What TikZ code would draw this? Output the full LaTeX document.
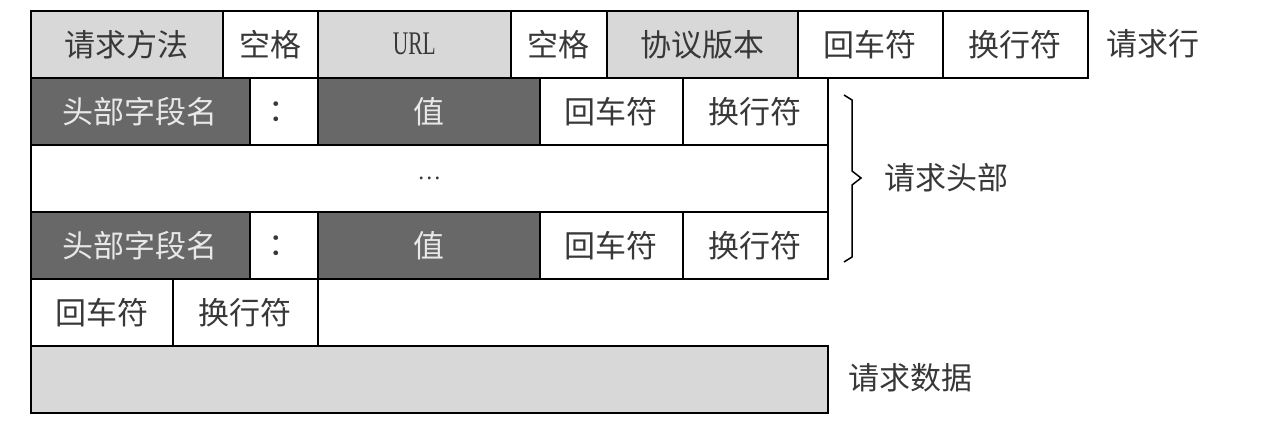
\documentclass[tikz,border=0pt]{standalone}
\usepackage{fontspec}
\setmainfont{Noto Sans CJK SC}
\newfontfamily\serifw{Liberation Serif}
\newfontfamily\urlfont[FakeStretch=0.65]{Liberation Serif}
\definecolor{lgray}{HTML}{D8D8D8}
\definecolor{dgray}{HTML}{686868}
\definecolor{txt}{HTML}{383838}
\definecolor{ltxt}{HTML}{E8E8E8}
\tikzset{
  cell/.style={draw=black, line width=1.6pt, anchor=north west, inner sep=0pt,
    font=\fontsize{31pt}{31pt}\selectfont, text=txt, minimum height=#1},
  cell/.default=67pt,
  wcell/.style={cell, fill=white},
  lcell/.style={cell, fill=lgray},
  dcell/.style={cell, fill=dgray, text=ltxt},
  lab/.style={font=\fontsize{31pt}{31pt}\selectfont, text=txt, inner sep=0pt},
  bracestyle/.style={line width=1.5pt, line join=miter}
}
\begin{document}
\begin{tikzpicture}[x=1pt,y=-1pt]
\useasboundingbox (0,0) rectangle (1266,441);
% row 1: request line
\node[lcell, minimum width=192pt] (m)  at (30,10)  {请求方法};
\node[wcell, minimum width=95pt]  (s1) at (222,10) {空格};
\node[lcell, minimum width=193pt, font=\urlfont\fontsize{33pt}{33pt}\selectfont] (u) at (317,10) {URL};
\node[wcell, minimum width=96pt]  (s2) at (510,10) {空格};
\node[lcell, minimum width=191pt] (v)  at (606,10) {协议版本};
\node[wcell, minimum width=145pt] (cr1) at (797,10) {回车符};
\node[wcell, minimum width=145pt] (lf1) at (942,10) {换行符};
\node[lab, anchor=center] (reqline) at (1153,44) {请求行};
% row 2: header
\node[dcell, minimum width=219pt] (h1) at (30,77)  {头部字段名};
\node[wcell, minimum width=68pt]  (c1) at (249,77) {：};
\node[dcell, minimum width=222pt] (v1) at (317,77) {值};
\node[wcell, minimum width=143pt] (cr2) at (539,77) {回车符};
\node[wcell, minimum width=145pt] (lf2) at (682,77) {换行符};
% row 3: ellipsis
\node[wcell, minimum width=797pt, font=\serifw\fontsize{24pt}{24pt}\selectfont] (dots) at (30,144) {…};
% row 4: header
\node[dcell, minimum width=219pt] (h2) at (30,211)  {头部字段名};
\node[wcell, minimum width=68pt]  (c2) at (249,211) {：};
\node[dcell, minimum width=222pt] (v2) at (317,211) {值};
\node[wcell, minimum width=143pt] (cr3) at (539,211) {回车符};
\node[wcell, minimum width=145pt] (lf3) at (682,211) {换行符};
% brace
\coordinate (bt) at (844,95);
\coordinate (btip) at (861,178);
\coordinate (bb) at (844,262);
\draw[bracestyle] (bt) -- (852,100) -- (852,171) -- (btip) -- (852,185) -- (852,257) -- (bb);
\node[lab, anchor=center] (hdr) at (946,178) {请求头部};
% row 5: blank line
\node[wcell, minimum width=142pt] (cr4) at (30,278)  {回车符};
\node[wcell, minimum width=145pt] (lf4) at (172,278) {换行符};
% row 6: data
\node[lcell, minimum width=797pt] (data) at (30,345) {};
\node[lab, anchor=center] (datal) at (910,378) {请求数据};
\end{tikzpicture}
\end{document}
